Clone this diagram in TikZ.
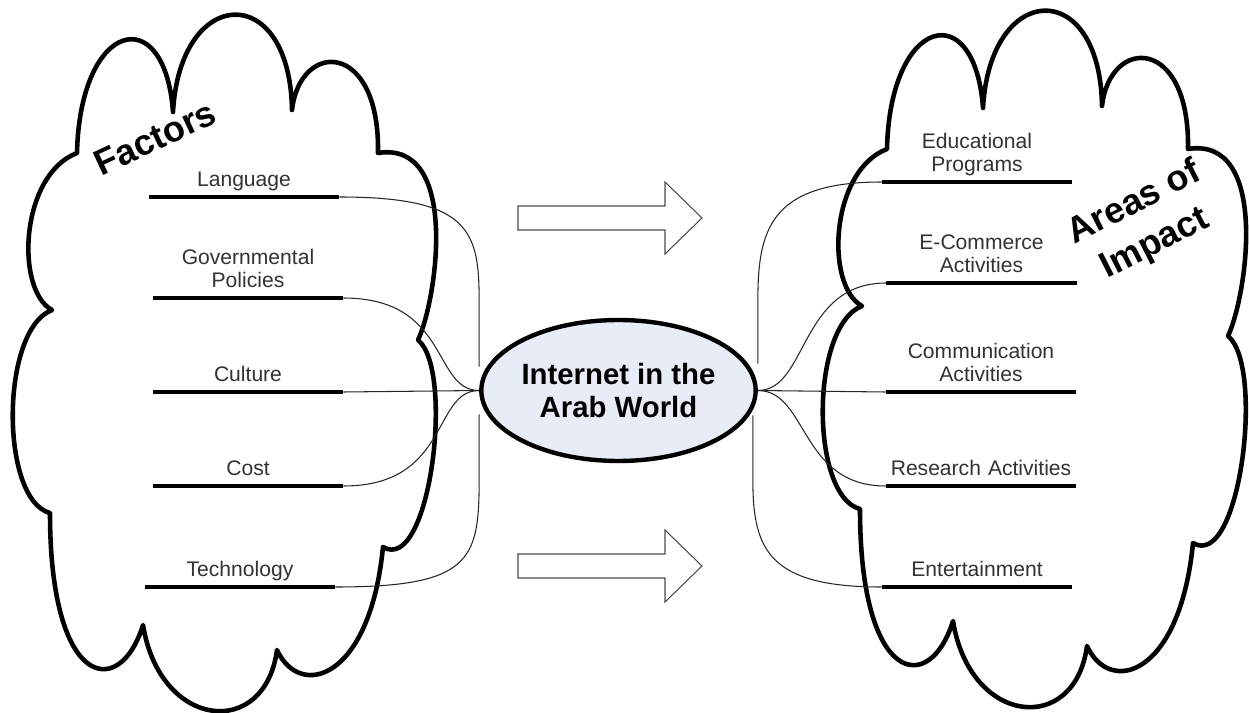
\documentclass[tikz,border=0pt]{standalone}
\usepackage{fontspec}
\setsansfont{Liberation Sans}
\usepackage{tikz}
\usetikzlibrary{shapes.geometric,calc}
\definecolor{hubfill}{RGB}{232,236,246}
\definecolor{labelgray}{RGB}{51,51,51}
\tikzset{
cloudline/.style = {draw, line width=2.6pt, fill=white, line join=round},
bar/.style = {line width=2.6pt},
item/.style = {anchor=south, align=center, text width=3.8cm, inner xsep=0pt, inner ysep=2pt, font=\sffamily\fontsize{12}{13}\selectfont, text=labelgray, execute at end node=\strut},
hub/.style = {draw, ellipse, line width=2.5pt, fill=hubfill, minimum width=5.18cm, minimum height=2.82cm, align=center, inner sep=0pt, font=\sffamily\bfseries\fontsize{16.7}{19}\selectfont},
title/.style = {align=center, font=\sffamily\bfseries\fontsize{20.5}{26}\selectfont},
link/.style = {line width=0.6pt, draw=black!85},
blockarrow/.style = {draw=black!70, line width=0.6pt, fill=white},
cloudshape/.pic = {
  \draw[cloudline] (52,310) .. controls (15,290) and (20,175) .. (77,153)
    .. controls (80,20) and (165,0) .. (173,112)
    .. controls (180,-15) and (290,-20) .. (292,110)
    .. controls (300,40) and (380,40) .. (378,153)
    .. controls (460,140) and (437,300) .. (418,340)
    .. controls (455,370) and (430,575) .. (383,547)
    .. controls (370,680) and (300,700) .. (277,650)
    .. controls (265,740) and (160,730) .. (143,625)
    .. controls (120,700) and (50,690) .. (50,513)
    .. controls (0,500) and (0,330) .. (52,310) -- cycle;
}
}

\begin{document}
\begin{tikzpicture}[x=0.02cm, y=-0.02cm]
    \useasboundingbox (0,0) rectangle (1249,713);

    % the two clouds
    \pic at (0,0) {cloudshape};
    \pic at (810,-4) {cloudshape};

    % block arrows
    \foreach \ay in {218,566}
      \draw[blockarrow] (518,\ay-12) -- (665,\ay-12) -- (665,\ay-36) -- (702,\ay)
        -- (665,\ay+36) -- (665,\ay+12) -- (518,\ay+12) -- cycle;

    % factors
    \node[item] (lang) at (244,197) {Language};
    \node[item] (gov) at (248,298) {Governmental\\Policies};
    \node[item] (cult) at (248,392) {Culture};
    \node[item] (cost) at (248,486) {Cost};
    \node[item] (tech) at (240,587) {Technology};

    % areas of impact
    \node[item] (edu) at (977,182) {Educational\\Programs};
    \node[item] (ecom) at (981.5,283) {E-Commerce\\Activities};
    \node[item] (comm) at (981,392) {Communication\\Activities};
    \node[item] (res) at (981,486) {Research Activities};
    \node[item] (ent) at (977,587) {Entertainment};

    \node[hub] (ell) at (618.5,390.5) {Internet in the\\Arab World};

    % links, left side
    \draw[link] (lang.south east) .. controls +(130,0) and +(0,-70) .. ([yshift=1.8cm]ell.west) -- ([yshift=0.48cm]ell.west);
    \draw[link] (gov.south east) .. controls +(107,0) and +(-47,0) .. (ell.west);
    \draw[link] (cult.south east) -- (ell.west);
    \draw[link] (cost.south east) .. controls +(107,0) and +(-47,0) .. (ell.west);
    \draw[link] (tech.south east) .. controls +(135,0) and +(0,80) .. ([yshift=-1.8cm]ell.west) -- ([yshift=-0.48cm]ell.west);

    % links, right side
    \draw[link] (edu.south west) .. controls +(-112,0) and +(0,-70) .. ([yshift=1.8cm]ell.east) -- ([yshift=0.54cm]ell.east);
    \draw[link] (ecom.south west) .. controls +(-87,0) and +(50,0) .. (ell.east);
    \draw[link] (comm.south west) -- (ell.east);
    \draw[link] (res.south west) .. controls +(-86,0) and +(50,0) .. (ell.east);
    \draw[link] (ent.south west) .. controls +(-112,0) and +(0,70) .. ([xshift=-0.1cm,yshift=-1.8cm]ell.east) -- ([xshift=-0.1cm,yshift=-0.5cm]ell.east);

    % bars under the labels
    \foreach \n in {lang,gov,cult,cost,tech,edu,ecom,comm,res,ent}
      \draw[bar] (\n.south west) -- (\n.south east);

    \node[title, rotate=25] (factors) at (155,138) {Factors};
    \node[title, rotate=27] (areas) at (1145,224) {Areas of\\Impact};

\end{tikzpicture}
\end{document}
